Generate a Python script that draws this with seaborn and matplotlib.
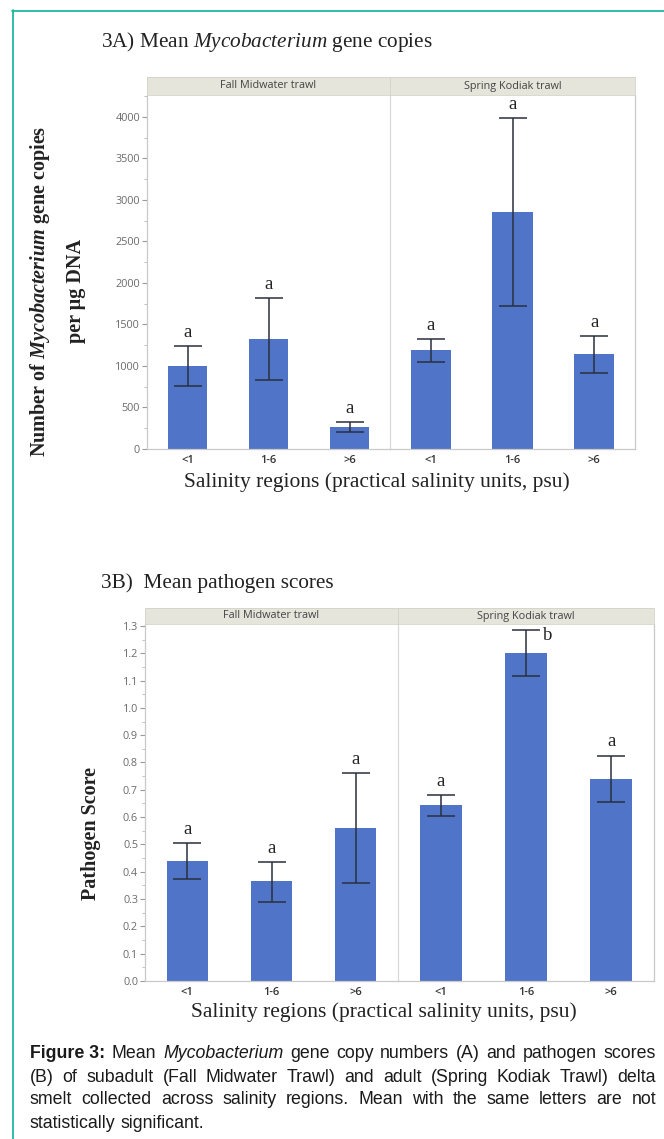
import matplotlib
matplotlib.use("Agg")
import matplotlib.pyplot as plt
from matplotlib.ticker import AutoMinorLocator
from matplotlib.lines import Line2D
import seaborn as sns
import numpy as np

sns.set_theme(style="white")
plt.rcParams['font.family'] = ['DejaVu Sans']
plt.rcParams['mathtext.fontset'] = 'custom'
plt.rcParams['mathtext.it'] = 'Liberation Serif:italic'
plt.rcParams['mathtext.rm'] = 'Liberation Serif'
plt.rcParams['mathtext.bf'] = 'Liberation Serif:bold:italic'

# ---------------- data ----------------
salinity = ["<1", "1-6", ">6"]
facets = ["Fall Midwater trawl", "Spring Kodiak trawl"]

# Panel A: Mycobacterium gene copies
copies_fall_mean = [1000, 1330, 270]
copies_fall_lo = [760, 830, 210]
copies_fall_hi = [1240, 1820, 320]
copies_spring_mean = [1190, 2850, 1150]
copies_spring_lo = [1050, 1720, 920]
copies_spring_hi = [1320, 3990, 1360]
copies_fall_letters = ["a", "a", "a"]
copies_spring_letters = ["a", "a", "a"]
copies_ticks = [0, 500, 1000, 1500, 2000, 2500, 3000, 3500, 4000]

# Panel B: pathogen scores
score_fall_mean = [0.44, 0.365, 0.56]
score_fall_lo = [0.375, 0.29, 0.36]
score_fall_hi = [0.505, 0.435, 0.76]
score_spring_mean = [0.645, 1.20, 0.74]
score_spring_lo = [0.605, 1.115, 0.655]
score_spring_hi = [0.68, 1.285, 0.825]
score_fall_letters = ["a", "a", "a"]
score_spring_letters = ["a", "b", "a"]
score_ticks = [0.0, 0.1, 0.2, 0.3, 0.4, 0.5, 0.6, 0.7, 0.8, 0.9, 1.0, 1.1, 1.2, 1.3]

# ---------------- style ----------------
W, H = 664, 1139
BAR = "#4f74c8"
ERR = "#2a2f3d"
STRIP = "#e6e5db"
SPINE = "#c9c9c9"
TICKC = "#6b6b6b"
TEAL = "#1fb89e"
SERIF = ["Liberation Serif", "DejaVu Serif"]
SANS = ["Open Sans", "DejaVu Sans"]

fig = plt.figure(figsize=(W / 100, H / 100), dpi=100)
fig.patch.set_facecolor("white")


def fx(px):
    return px / W


def fy(py):
    return 1 - py / H


def draw_facet(ax, means, lo, hi, letters, ylim, ticks, show_y, letter_pad, b_side=False):
    sns.barplot(x=salinity, y=means, ax=ax, color=BAR, width=0.49,
                errorbar=None, saturation=1, edgecolor="none")
    xs = np.arange(len(salinity))
    means_a = np.array(means)
    yerr = [means_a - np.array(lo), np.array(hi) - means_a]
    ax.errorbar(xs, means_a, yerr=yerr, fmt="none", ecolor=ERR,
                elinewidth=1.1, capsize=9.9, capthick=1.1, zorder=5)
    for i, let in enumerate(letters):
        if let == "b" and b_side:
            ax.text(xs[i] + 0.2, hi[i] - letter_pad, let, ha="left", va="center",
                    family=SERIF, fontsize=13.5, color="#222222", zorder=6)
        else:
            ax.text(xs[i], hi[i] + letter_pad, let, ha="center", va="bottom",
                    family=SERIF, fontsize=13.5, color="#222222", zorder=6)
    ax.set_xlim(-0.5, 2.5)
    ax.set_ylim(*ylim)
    ax.set_xlabel("")
    ax.set_ylabel("")
    ax.set_facecolor("white")
    for s in ax.spines.values():
        s.set_color(SPINE)
        s.set_linewidth(0.9)
    ax.spines["top"].set_visible(False)
    ax.tick_params(axis="x", length=0, pad=4, labelsize=8, labelcolor="#333333")
    for lab in ax.get_xticklabels():
        lab.set_family(SANS)
        lab.set_fontweight("semibold")
    if show_y:
        ax.set_yticks(ticks)
        ax.yaxis.set_minor_locator(AutoMinorLocator(2))
        ax.tick_params(axis="y", which="major", length=3.5, width=0.8, color="#9a9a9a",
                       labelsize=7.8, labelcolor=TICKC, pad=1.5, left=True)
        ax.tick_params(axis="y", which="minor", length=2, width=0.6, color="#b5b5b5", left=True)
        for lab in ax.get_yticklabels():
            lab.set_family(SANS)
    else:
        ax.set_yticks([])
        ax.spines["left"].set_visible(False)
    ax.grid(False)


def draw_strip(left, right, top, bottom, label):
    sax = fig.add_axes([fx(left), fy(bottom), fx(right - left), (bottom - top) / H])
    sax.set_facecolor(STRIP)
    sax.set_xticks([])
    sax.set_yticks([])
    for s in sax.spines.values():
        s.set_color("#d4d3c8")
        s.set_linewidth(0.6)
    sax.text(0.5, 0.5, label, ha="center", va="center", transform=sax.transAxes,
             family=SANS, fontsize=7.8, color="#444444")


def panel(left, mid, right, strip_top, top, bottom, fall, spring, ylim, ticks, pad, b_side):
    ax1 = fig.add_axes([fx(left), fy(bottom), fx(mid - left), (bottom - top) / H])
    ax2 = fig.add_axes([fx(mid), fy(bottom), fx(right - mid), (bottom - top) / H])
    draw_facet(ax1, *fall, ylim, ticks, True, pad)
    draw_facet(ax2, *spring, ylim, ticks, False, pad, b_side)
    ax1.spines["right"].set_visible(False)
    ax2.spines["left"].set_visible(True)
    ax2.spines["left"].set_color("#d8d8d8")
    draw_strip(left, mid, strip_top, top, facets[0])
    draw_strip(mid, right, strip_top, top, facets[1])
    return ax1, ax2


# Panel A
panel(147, 390, 635, 77, 95, 449,
      (copies_fall_mean, copies_fall_lo, copies_fall_hi, copies_fall_letters),
      (copies_spring_mean, copies_spring_lo, copies_spring_hi, copies_spring_letters),
      (0, 4265), copies_ticks, 60, False)

# Panel B
panel(145, 398, 654, 608, 624, 981,
      (score_fall_mean, score_fall_lo, score_fall_hi, score_fall_letters),
      (score_spring_mean, score_spring_lo, score_spring_hi, score_spring_letters),
      (0, 1.307), score_ticks, 0.02, True)

# Titles
fig.text(fx(101), fy(42), "3A) Mean $\\mathit{Mycobacterium}$ gene copies", ha="left",
         va="center", family=SERIF, fontsize=15.3, color="#222222")
fig.text(fx(101), fy(583), "3B)  Mean pathogen scores", ha="left", va="center",
         family=SERIF, fontsize=15.3, color="#222222")

# x labels
fig.text(fx(377), fy(482), "Salinity regions (practical salinity units, psu)", ha="center",
         va="center", family=SERIF, fontsize=15.5, color="#222222")
fig.text(fx(384), fy(1012), "Salinity regions (practical salinity units, psu)", ha="center",
         va="center", family=SERIF, fontsize=15.5, color="#222222")

# y labels
fig.text(fx(40), fy(291), "Number of $\\mathbf{Mycobacterium}$ gene copies",
         rotation=90, ha="center", va="center", family=SERIF, fontsize=14.5,
         fontweight="bold", color="#222222")
fig.text(fx(76), fy(291), "per µg DNA", rotation=90, ha="center", va="center",
         family=SERIF, fontsize=14.5, fontweight="bold", color="#222222")
fig.text(fx(91), fy(834), "Pathogen Score", rotation=90, ha="center", va="center",
         family=SERIF, fontsize=14.5, fontweight="bold", color="#222222")

# Teal frame (top and left)
fig.add_artist(Line2D([fx(12), 1.0], [fy(10.5), fy(10.5)], color=TEAL, lw=1.3,
                      transform=fig.transFigure))
fig.add_artist(Line2D([fx(12.5), fx(12.5)], [fy(10), 0.0], color=TEAL, lw=1.3,
                      transform=fig.transFigure))

# Caption (justified)
CAP = ["Liberation Sans", "DejaVu Sans"]
caption_lines = [
    [("Figure 3:", "bold", "normal"), ("Mean", "normal", "normal"),
     ("Mycobacterium", "normal", "italic"), ("gene", "normal", "normal"),
     ("copy", "normal", "normal"), ("numbers", "normal", "normal"), ("(A)", "normal", "normal"),
     ("and", "normal", "normal"), ("pathogen", "normal", "normal"), ("scores", "normal", "normal")],
    [(w, "normal", "normal") for w in "(B) of subadult (Fall Midwater Trawl) and adult (Spring Kodiak Trawl) delta".split()],
    [(w, "normal", "normal") for w in "smelt collected across salinity regions. Mean with the same letters are not".split()],
    [(w, "normal", "normal") for w in "statistically significant.".split()],
]
cap_y = [1053, 1077, 1100, 1124]
cap_left, cap_right = 30, 656
renderer = fig.canvas.get_renderer()
for li, (words, ypx) in enumerate(zip(caption_lines, cap_y)):
    texts = []
    for w, wt, st in words:
        t = fig.text(0, fy(ypx), w, ha="left", va="center", family=CAP, fontsize=12.8,
                     fontweight=wt, fontstyle=st, color="#1a1a1a")
        texts.append(t)
    widths = [t.get_window_extent(renderer).width for t in texts]
    last = li == len(caption_lines) - 1
    if last:
        space = 4.5
    else:
        space = (cap_right - cap_left - sum(widths)) / (len(words) - 1)
    x = cap_left
    for t, wdt in zip(texts, widths):
        t.set_x(fx(x))
        x += wdt + space

fig.savefig("out.png", dpi=100, facecolor="white")
